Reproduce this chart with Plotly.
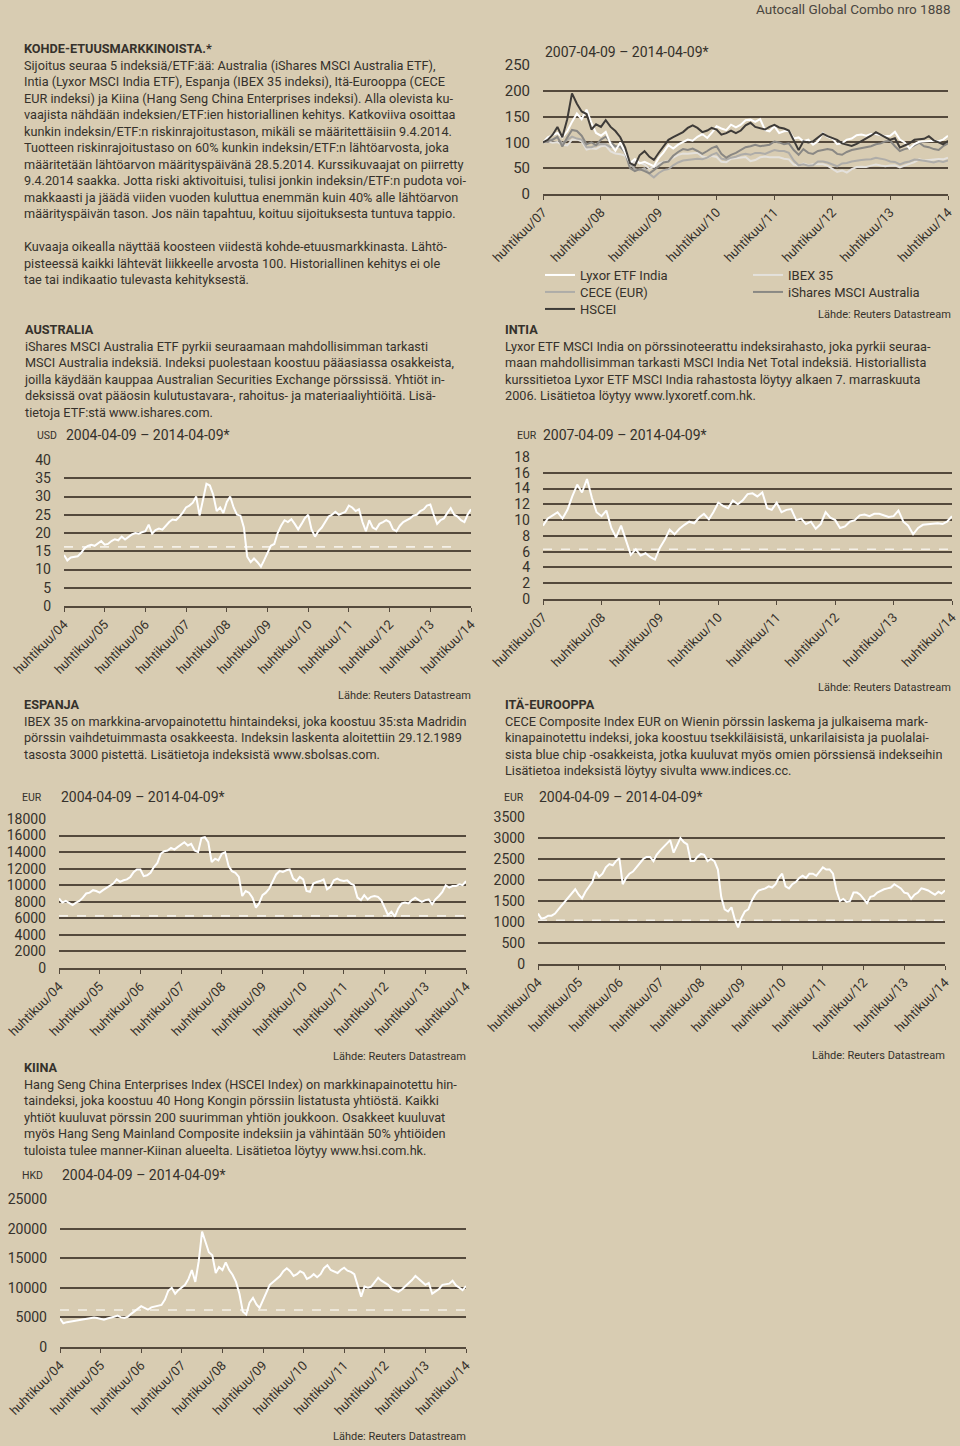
import pandas as pd
import plotly.graph_objects as go

W, H = 960, 1446
BG = "#d8ccb2"
GRID = "#54493c"
TXT = "#35312b"
FONT = "Roboto"

# monthly observations, 9th of each month
dates_04 = pd.date_range("2004-04-09", periods=121, freq=pd.DateOffset(months=1))
dates_07 = dates_04[36:]

australia_usd = [
    14.0, 12.5, 13.3, 13.5, 13.6, 14.5, 15.8, 16.5, 16.8,
    16.5, 17.3, 17.8, 16.8, 17.0, 17.8, 18.3, 18.0, 19.0, 18.2, 19.0, 19.6,
    20.0, 19.8, 20.2, 20.5, 22.3, 19.8, 20.8, 21.2, 20.9, 22.0, 23.0, 23.7,
    23.5, 24.5, 25.5, 27.0, 27.5, 28.3, 30.0, 24.8, 29.5, 33.5, 33.0, 30.5,
    26.0, 27.0, 25.5, 28.5, 30.0, 27.0, 25.0, 24.8, 21.5, 13.5, 12.0, 13.0,
    12.0, 10.8, 12.5, 14.5, 16.5, 17.0, 20.0, 22.0, 23.5, 23.0, 23.8, 22.5,
    21.0, 22.5, 24.0, 25.0, 21.0, 19.0, 20.5, 21.5, 23.0, 24.5, 25.0, 25.8,
    25.0, 25.5, 25.8, 27.5, 27.0, 26.0, 26.5, 23.0, 20.5, 23.5, 21.5, 21.0,
    22.5, 23.0, 23.5, 23.0, 21.0, 20.5, 22.0, 23.0, 23.5, 24.0, 24.8, 25.0,
    26.0, 26.5, 27.5, 27.8, 25.0, 22.5, 23.5, 24.0, 25.5, 26.8, 25.0, 24.5,
    23.5, 23.0, 25.0, 26.5,
]

india_eur = [
    9.3, 10.2, 10.6, 11.0, 10.2, 11.3, 13.0, 14.5, 13.5,
    15.2, 12.8, 11.0, 10.5, 11.2, 9.0, 7.8, 9.3, 7.5, 5.6, 6.3, 5.5,
    5.8, 5.3, 5.0, 6.5, 7.5, 8.8, 8.2, 8.9, 9.4, 9.8, 9.6, 10.3,
    10.8, 10.1, 11.0, 12.2, 11.8, 11.5, 12.5, 12.0, 12.5, 13.3, 13.4, 13.0,
    13.5, 11.5, 11.3, 12.2, 11.0, 11.3, 11.4, 10.0, 10.2, 9.5, 9.8, 8.9,
    9.5, 11.0, 10.3, 10.0, 9.0, 9.2, 9.8, 10.0, 10.6, 10.7, 10.5, 10.8,
    10.8, 10.6, 10.4, 10.5, 11.2, 9.8, 9.3, 8.2, 9.0, 9.4, 9.5, 9.5,
    9.6, 9.5, 9.8, 10.5,
]

ibex35 = [
    8400, 7900, 8100, 7900, 7600, 7900, 8100, 8500, 9000,
    9100, 9400, 9300, 9100, 9400, 9700, 10000, 10200, 10700, 10400, 10600, 10700,
    11000, 11600, 11900, 11900, 11100, 11200, 11500, 12200, 12700, 13800, 14100, 14200,
    14500, 14300, 14600, 14900, 15200, 14800, 15000, 14200, 14000, 15700, 15800, 15200,
    12800, 13200, 13000, 13800, 14000, 12300, 11700, 11500, 11000, 8700, 9300, 9100,
    8500, 7300, 7800, 8800, 9100, 9600, 10500, 11300, 11700, 11600, 11800, 11900,
    10800, 10500, 11000, 10700, 9300, 9200, 10200, 10400, 10500, 10700, 9500, 9800,
    10600, 10800, 10600, 10500, 10600, 10200, 10000, 8500, 8200, 8800, 8300, 8600,
    8700, 8600, 8200, 7200, 6400, 6800, 6200, 7200, 7800, 7900, 7800, 8200,
    8500, 8200, 8000, 8200, 8300, 7700, 8300, 8700, 9200, 10000, 9700, 9900,
    9900, 10100, 10000, 10500,
]

cece_eur = [
    1200, 1080, 1100, 1150, 1150, 1200, 1300, 1400, 1480,
    1580, 1700, 1780, 1650, 1560, 1720, 1830, 1950, 2200, 2080, 2150, 2300,
    2380, 2350, 2450, 2520, 1900, 2050, 2150, 2200, 2300, 2400, 2500, 2550,
    2550, 2450, 2600, 2700, 2780, 2850, 2950, 2650, 2850, 3000, 2900, 2850,
    2450, 2450, 2550, 2620, 2600, 2450, 2500, 2450, 2250, 1600, 1300, 1250,
    1350, 1050, 870, 1100, 1250, 1300, 1500, 1650, 1750, 1780, 1800, 1850,
    1820, 1900, 2050, 2150, 1850, 1800, 1900, 1950, 2050, 2100, 2050, 2150,
    2150, 2100, 2200, 2300, 2250, 2250, 2150, 1750, 1500, 1550, 1480, 1500,
    1700, 1700, 1650, 1550, 1450, 1600, 1620, 1700, 1750, 1780, 1800, 1820,
    1900, 1850, 1800, 1700, 1680, 1550, 1650, 1700, 1800, 1780, 1750, 1700,
    1650, 1720, 1680, 1750,
]

hscei_hkd = [
    4800, 4000, 4200, 4300, 4400, 4600, 4700, 4800, 4800,
    4900, 5000, 4900, 4800, 4600, 4800, 4900, 5100, 5300, 5000, 4900, 5100,
    5600, 6100, 6500, 6900, 6600, 6300, 6700, 6800, 6900, 7100, 8000, 9500,
    10000, 9000, 9600, 10000, 10500, 11500, 13000, 11000, 14500, 19500, 17500, 16000,
    15500, 12500, 13500, 13000, 14300, 13000, 12200, 11000, 9000, 6000, 5500, 7500,
    8300, 7200, 6600, 8000, 9200, 10500, 11000, 11500, 12000, 12800, 13300, 12800,
    12000, 12300, 12800, 12500, 11500, 11800, 12300, 11800, 12300, 13300, 13800, 13000,
    12700, 12500, 13000, 13400, 12900, 12700, 12300, 10500, 8500, 10200, 10000, 10200,
    11000, 11700, 11200, 10800, 10500, 9800, 9500, 9300, 9700, 10200, 10700, 11300,
    12000, 11500, 11000, 10500, 10800, 9000, 9400, 9800, 10500, 10600, 10700, 11200,
    10400, 10000, 9600, 10300,
]

# risk-limit levels (dashed lines) and the dates they are drawn between
barrier_australia = [16.2, 16.2]
barrier_australia_dates = ["2004-04-09", "2013-11-15"]
barrier_india = [6.3, 6.3]
barrier_ibex = [6300, 6300]
barrier_cece = [1040, 1040]
barrier_hscei = [6250, 6250]
barrier_dates_04 = ["2004-04-09", "2014-04-09"]
barrier_dates_07 = ["2007-04-09", "2014-04-09"]

tick_dates_04 = ["2004-04-09", "2005-04-09", "2006-04-09", "2007-04-09", "2008-04-09",
                 "2009-04-09", "2010-04-09", "2011-04-09", "2012-04-09", "2013-04-09",
                 "2014-04-09"]
tick_text_04 = ["huhtikuu/04", "huhtikuu/05", "huhtikuu/06", "huhtikuu/07", "huhtikuu/08",
                "huhtikuu/09", "huhtikuu/10", "huhtikuu/11", "huhtikuu/12", "huhtikuu/13",
                "huhtikuu/14"]
tick_dates_07 = tick_dates_04[3:]
tick_text_07 = tick_text_04[3:]

# composite: every series rebased to 100 at 2007-04-09
base = 36
comp_india = [v / india_eur[0] * 100 for v in india_eur]
comp_ibex = [v / ibex35[base] * 100 for v in ibex35[base:]]
comp_cece = [v / cece_eur[base] * 100 for v in cece_eur[base:]]
comp_aus = [v / australia_usd[base] * 100 for v in australia_usd[base:]]
comp_hscei = [v / hscei_hkd[base] * 100 for v in hscei_hkd[base:]]


def px(x):
    return x / W


def py(y):
    return 1 - y / H


fig = go.Figure()

# (axis suffix, left, right, top, bottom px, ymax, dtick, x start, y font size)
charts = [
    ("", 543, 948, 65, 194, 250, 50, "2007-04-09", 15),
    ("2", 64, 471, 460, 606, 40, 5, "2004-04-09", 14),
    ("3", 543, 952, 457, 599, 18, 2, "2007-04-09", 14),
    ("4", 59, 466, 819, 968, 18000, 2000, "2004-04-09", 14),
    ("5", 538, 945, 817, 964, 3500, 500, "2004-04-09", 14),
    ("6", 60, 466, 1199, 1347, 25000, 5000, "2004-04-09", 14),
]

for sfx, x0, x1, y0, y1, ymax, dtick, start, ysize in charts:
    if start == "2004-04-09":
        tv, tt = tick_dates_04, tick_text_04
    else:
        tv, tt = tick_dates_07, tick_text_07
    fig.update_layout({
        "xaxis" + sfx: dict(
            domain=[px(x0), px(x1)], anchor="y" + sfx, type="date",
            range=[start, "2014-04-09"], tickvals=tv, ticktext=tt, tickangle=-45,
            showline=True, linecolor=GRID, linewidth=1.5, ticks="outside",
            ticklen=4, tickcolor=GRID, showgrid=False, zeroline=False,
            tickfont=dict(size=13, color=TXT), fixedrange=True, automargin=False,
        ),
        "yaxis" + sfx: dict(
            domain=[py(y1), py(y0)], anchor="x" + sfx, range=[0, ymax],
            dtick=dtick, tick0=0, tickformat="d", showgrid=True, gridcolor=GRID,
            gridwidth=1.5, zeroline=False, showline=False, ticks="",
            tickfont=dict(size=ysize, color=TXT), ticklabelstandoff=12,
            fixedrange=True, automargin=False,
        ),
    })

line_white = dict(color="#ffffff", width=2)
dash_white = dict(color="#f4f0e8", width=1.6, dash="dash")

# composite chart; each legend entry gets its own small legend box
comp_series = [
    ("IBEX 35", comp_ibex, "#e4e1dc", "legend4"),
    ("CECE (EUR)", comp_cece, "#aeaca8", "legend2"),
    ("iShares MSCI Australia", comp_aus, "#8a8884", "legend5"),
    ("Lyxor ETF India", comp_india, "#ffffff", "legend"),
    ("HSCEI", comp_hscei, "#3e3b38", "legend3"),
]
for name, vals, col, leg in comp_series:
    fig.add_trace(go.Scatter(
        x=dates_07, y=vals, mode="lines", name=name, line=dict(color=col, width=2),
        xaxis="x", yaxis="y", legend=leg,
    ))

singles = [
    ("2", dates_04, australia_usd, barrier_australia_dates, barrier_australia),
    ("3", dates_07, india_eur, barrier_dates_07, barrier_india),
    ("4", dates_04, ibex35, barrier_dates_04, barrier_ibex),
    ("5", dates_04, cece_eur, barrier_dates_04, barrier_cece),
    ("6", dates_04, hscei_hkd, barrier_dates_04, barrier_hscei),
]
for sfx, d, vals, bd, bv in singles:
    fig.add_trace(go.Scatter(x=bd, y=bv, mode="lines", line=dash_white,
                             xaxis="x" + sfx, yaxis="y" + sfx, showlegend=False))
    fig.add_trace(go.Scatter(x=d, y=vals, mode="lines", line=line_white,
                             xaxis="x" + sfx, yaxis="y" + sfx, showlegend=False))

annotations = []


def text(x, y, s, size=12.7, xanchor="left", yanchor="middle", color=TXT):
    annotations.append(dict(
        x=px(x), y=py(y), xref="paper", yref="paper", text=s, showarrow=False,
        xanchor=xanchor, yanchor=yanchor, align="left",
        font=dict(size=size, color=color, family=FONT),
    ))


text(952, 9, "Autocall Global Combo nro 1888", size=13.5, xanchor="right", color="#4a4640")

intro = [
    "<b>KOHDE-ETUUSMARKKINOISTA.*</b>",
    "Sijoitus seuraa 5 indeksiä/ETF:ää: Australia (iShares MSCI Australia ETF),",
    "Intia (Lyxor MSCI India ETF), Espanja (IBEX 35 indeksi), Itä-Eurooppa (CECE",
    "EUR indeksi) ja Kiina (Hang Seng China Enterprises indeksi). Alla olevista ku-",
    "vaajista nähdään indeksien/ETF:ien historiallinen kehitys. Katkoviiva osoittaa",
    "kunkin indeksin/ETF:n riskinrajoitustason, mikäli se määritettäisiin 9.4.2014.",
    "Tuotteen riskinrajoitustaso on 60% kunkin indeksin/ETF:n lähtöarvosta, joka",
    "määritetään lähtöarvon määrityspäivänä 28.5.2014. Kurssikuvaajat on piirretty",
    "9.4.2014 saakka. Jotta riski aktivoituisi, tulisi jonkin indeksin/ETF:n pudota voi-",
    "makkaasti ja jäädä viiden vuoden kuluttua enemmän kuin 40% alle lähtöarvon",
    "määrityspäivän tason. Jos näin tapahtuu, koituu sijoituksesta tuntuva tappio.",
]
intro2 = [
    "Kuvaaja oikealla näyttää koosteen viidestä kohde-etuusmarkkinasta. Lähtö-",
    "pisteessä kaikki lähtevät liikkeelle arvosta 100. Historiallinen kehitys ei ole",
    "tae tai indikaatio tulevasta kehityksestä.",
]
australia_txt = [
    "<b>AUSTRALIA</b>",
    "iShares MSCI Australia ETF pyrkii seuraamaan mahdollisimman tarkasti",
    "MSCI Australia indeksiä. Indeksi puolestaan koostuu pääasiassa osakkeista,",
    "joilla käydään kauppaa Australian Securities Exchange pörssissä. Yhtiöt in-",
    "deksissä ovat pääosin kulutustavara-, rahoitus- ja materiaaliyhtiöitä. Lisä-",
    "tietoja ETF:stä www.ishares.com.",
]
intia_txt = [
    "<b>INTIA</b>",
    "Lyxor ETF MSCI India on pörssinoteerattu indeksirahasto, joka pyrkii seuraa-",
    "maan mahdollisimman tarkasti MSCI India Net Total indeksiä. Historiallista",
    "kurssitietoa Lyxor ETF MSCI India rahastosta löytyy alkaen 7. marraskuuta",
    "2006. Lisätietoa löytyy www.lyxoretf.com.hk.",
]
espanja_txt = [
    "<b>ESPANJA</b>",
    "IBEX 35 on markkina-arvopainotettu hintaindeksi, joka koostuu 35:sta Madridin",
    "pörssin vaihdetuimmasta osakkeesta. Indeksin laskenta aloitettiin 29.12.1989",
    "tasosta 3000 pistettä. Lisätietoja indeksistä www.sbolsas.com.",
]
ita_txt = [
    "<b>ITÄ-EUROOPPA</b>",
    "CECE Composite Index EUR on Wienin pörssin laskema ja julkaisema mark-",
    "kinapainotettu indeksi, joka koostuu tsekkiläisistä, unkarilaisista ja puolalai-",
    "sista blue chip -osakkeista, jotka kuuluvat myös omien pörssiensä indekseihin",
    "Lisätietoa indeksistä löytyy sivulta www.indices.cc.",
]
kiina_txt = [
    "<b>KIINA</b>",
    "Hang Seng China Enterprises Index (HSCEI Index) on markkinapainotettu hin-",
    "taindeksi, joka koostuu 40 Hong Kongin pörssiin listatusta yhtiöstä. Kaikki",
    "yhtiöt kuuluvat pörssin 200 suurimman yhtiön joukkoon. Osakkeet kuuluvat",
    "myös Hang Seng Mainland Composite indeksiin ja vähintään 50% yhtiöiden",
    "tuloista tulee manner-Kiinan alueelta. Lisätietoa löytyy www.hsi.com.hk.",
]

for x, y, lines in [(22, 39, intro), (22, 237, intro2), (22, 320, australia_txt),
                    (503, 320, intia_txt), (22, 695, espanja_txt), (503, 695, ita_txt),
                    (22, 1058, kiina_txt)]:
    text(x, y, "<br>".join(lines), yanchor="top")

# chart captions
period_04 = "2004-04-09 – 2014-04-09*"
period_07 = "2007-04-09 – 2014-04-09*"
source = "Lähde: Reuters Datastream"
text(543, 52, period_07, size=14)
text(953, 314, source, size=11, xanchor="right")

text(35, 435, "USD", size=10.5)
text(64, 435, period_04, size=14)
text(473, 695, source, size=11, xanchor="right")

text(515, 435, "EUR", size=10.5)
text(541, 435, period_07, size=14)
text(953, 687, source, size=11, xanchor="right")

text(20, 797, "EUR", size=10.5)
text(59, 797, period_04, size=14)
text(468, 1056, source, size=11, xanchor="right")

text(502, 797, "EUR", size=10.5)
text(537, 797, period_04, size=14)
text(947, 1055, source, size=11, xanchor="right")

text(20, 1175, "HKD", size=10.5)
text(60, 1175, period_04, size=14)
text(468, 1436, source, size=11, xanchor="right")


def legend_box(x, y):
    return dict(x=px(x), y=py(y), xanchor="left", yanchor="middle",
                bgcolor="rgba(0,0,0,0)", itemwidth=30,
                font=dict(size=13, color=TXT, family=FONT))


fig.update_layout(
    width=W, height=H,
    margin=dict(l=0, r=0, t=0, b=0),
    paper_bgcolor=BG, plot_bgcolor=BG,
    font=dict(family=FONT, color=TXT),
    annotations=annotations,
    legend=legend_box(540, 275),
    legend2=legend_box(540, 292),
    legend3=legend_box(540, 309),
    legend4=legend_box(748, 275),
    legend5=legend_box(748, 292),
)

fig.write_html("out.html", config={"displayModeBar": False},
               post_script="document.body.style.margin='0';")
